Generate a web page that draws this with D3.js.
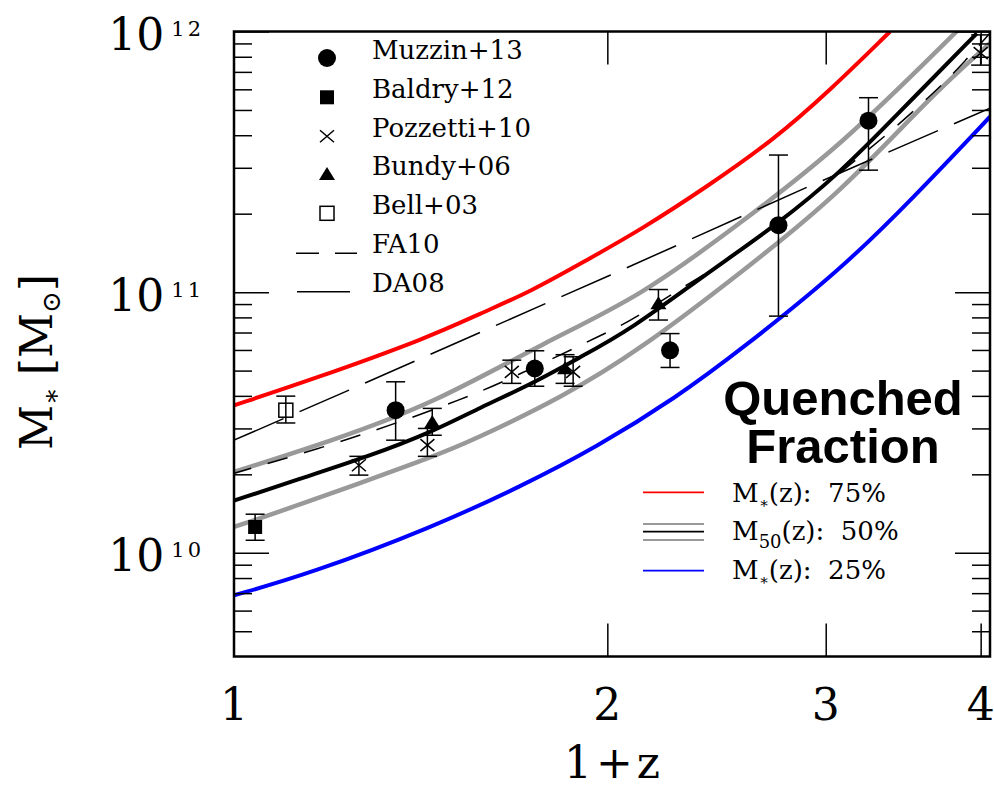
<!DOCTYPE html>
<html><head><meta charset="utf-8">
<script src="https://cdn.jsdelivr.net/npm/d3@7"></script>
<style>body{margin:0;background:#fff} svg{display:block}</style>
</head><body>
<svg id="chart" width="994" height="786"></svg>
<script>
// ---------- data (x = 1+z, values = log10 M*/Msun) ----------
const redX     = [1.00, 1.152, 1.439, 1.579, 1.733, 1.925, 2.126, 2.406, 2.722, 3.025, 3.381];
const redLogM  = [10.566, 10.662, 10.828, 10.918, 11.001, 11.123, 11.238, 11.404, 11.583, 11.775, 12.0];
const blackX   = [1.00, 1.132, 1.281, 1.449, 1.579, 1.733, 1.901, 2.086, 2.406, 2.746, 3.082, 3.423, 3.972];
const blackLogM= [10.20, 10.285, 10.368, 10.466, 10.557, 10.645, 10.75, 10.855, 11.072, 11.262, 11.458, 11.68, 11.993];
const greyHiX  = [1.00, 1.204, 1.449, 1.782, 2.126, 2.559, 3.082, 3.825];
const greyHiLogM=[10.31, 10.432, 10.573, 10.809, 10.982, 11.264, 11.558, 12.0];
const greyLoX  = [1.00, 1.097, 1.449, 1.558, 1.842, 2.126, 2.559, 3.082, 3.642, 4.07];
const greyLoLogM=[10.099, 10.163, 10.368, 10.432, 10.598, 10.78, 11.072, 11.379, 11.750, 11.955];
const blueX    = [1.00, 1.152, 1.447, 1.701, 1.962, 2.277, 2.559, 3.082, 3.528, 4.07];
const blueLogM = [9.837, 9.92, 10.099, 10.253, 10.406, 10.598, 10.777, 11.084, 11.361, 11.673];
const fa10X    = [1.00, 1.167, 1.363, 1.53, 1.639, 2.01, 2.106, 2.239, 2.526, 2.68, 3.331, 3.516, 3.71, 3.887, 4.07];
const fa10LogM = [10.305, 10.397, 10.502, 10.592, 10.649, 10.85, 10.90, 10.985, 11.134, 11.226, 11.587, 11.687, 11.787, 11.887, 11.994];
const da08X    = [1.00, 1.238, 2.01, 2.887, 4.07];
const da08LogM = [10.432, 10.624, 11.065, 11.399, 11.706];

const muzzinX  = [1.350, 1.748, 2.247, 2.748, 3.248];
const muzzinLogM=[10.547, 10.707, 10.777, 11.257, 11.658];
const muzzinLo = [10.432, 10.639, 10.711, 10.908, 11.468];
const muzzinHi = [10.656, 10.775, 10.841, 11.526, 11.746];
const baldryX  = [1.040];
const baldryLogM=[10.099];
const baldryLo = [10.048];
const baldryHi = [10.148];
const pozzettiX= [1.261, 1.432, 1.675, 1.877, 4.0];
const pozzettiLogM=[10.336, 10.413, 10.694, 10.694, 11.917];
const pozzettiLo=[10.298, 10.370, 10.650, 10.639, 11.871];
const pozzettiHi=[10.370, 10.477, 10.739, 10.752, 11.987];
const bundyX   = [1.445, 1.849, 2.199];
const bundyLogM= [10.502, 10.708, 10.957];
const bundyLo  = [10.451, 10.650, 10.893];
const bundyHi  = [10.554, 10.760, 11.010];
const bellX    = [1.101];
const bellLogM = [10.547];
const bellLo   = [10.498];
const bellHi   = [10.601];

const xTicks = [1, 2, 3, 4];
const xTickLabels = ["1", "2", "3", "4"];
const yMajor = [1e10, 1e11, 1e12];
const yMajorExp = ["10", "11", "12"];
const yMinor = [5e9, 6e9, 7e9, 8e9, 9e9, 2e10, 3e10, 4e10, 5e10, 6e10, 7e10, 8e10, 9e10,
                2e11, 3e11, 4e11, 5e11, 6e11, 7e11, 8e11, 9e11];

const legendNames = ["Muzzin+13", "Baldry+12", "Pozzetti+10", "Bundy+06", "Bell+03", "FA10", "DA08"];
const legendKinds = ["circle", "square", "cross", "triangle", "opensquare", "fa10", "da08"];

// ---------- layout ----------
const L = 234, R = 990, T = 31.5, B = 656.5;
const x = d3.scaleLog().domain([1, 4.07]).range([L, R]);
const y = d3.scaleLog().domain([4e9, 1e12]).range([B, T]);
const Y = v => y(Math.pow(10, v));
const SERIF = "'DejaVu Serif', serif";

const svg = d3.select('#chart');
svg.append('rect').attr('width', 994).attr('height', 786).attr('fill', '#fff');
svg.append('clipPath').attr('id', 'clip').append('rect')
  .attr('x', L).attr('y', T).attr('width', R - L).attr('height', B - T);

const plot = svg.append('g').attr('clip-path', 'url(#clip)');
const pairs = (xs, ls) => xs.map((v, i) => [v, ls[i]]);
const smooth = d3.line().x(d => x(d[0])).y(d => Y(d[1])).curve(d3.curveBasis);
const straight = d3.line().x(d => x(d[0])).y(d => Y(d[1]));

function curve(xs, ls, color, w, gen, dash, off) {
  const p = plot.append('path').datum(pairs(xs, ls)).attr('d', gen || smooth)
    .attr('fill', 'none').attr('stroke', color).attr('stroke-width', w)
    .attr('stroke-linejoin', 'round');
  if (dash) p.attr('stroke-dasharray', dash).attr('stroke-dashoffset', off || 0);
}
curve(redX, redLogM, '#ff0000', 4);
curve(blueX, blueLogM, '#0000ff', 4);
curve(greyHiX, greyHiLogM, '#999999', 4.5);
curve(greyLoX, greyLoLogM, '#999999', 4.5);
curve(blackX, blackLogM, '#000000', 4);
curve(fa10X, fa10LogM, '#000', 1.5, smooth, '21,17', 3);
curve(da08X, da08LogM, '#000', 1.5, straight, '54,17.5', 0);

// ---------- data points ----------
const pts = svg.append('g');
function errorbars(xs, ls, lo, hi) {
  xs.forEach((v, i) => {
    const cx = x(v);
    pts.append('line').attr('x1', cx).attr('x2', cx).attr('y1', Y(lo[i])).attr('y2', Y(hi[i]))
      .attr('stroke', '#000').attr('stroke-width', 1.5);
    [lo[i], hi[i]].forEach(e => pts.append('line').attr('x1', cx - 9.5).attr('x2', cx + 9.5)
      .attr('y1', Y(e)).attr('y2', Y(e)).attr('stroke', '#000').attr('stroke-width', 1.5));
  });
}
function marker(g, kind, cx, cy) {
  if (kind === 'circle') g.append('circle').attr('cx', cx).attr('cy', cy).attr('r', 9).attr('fill', '#000');
  else if (kind === 'square') g.append('rect').attr('x', cx - 7).attr('y', cy - 7).attr('width', 14).attr('height', 14).attr('fill', '#000');
  else if (kind === 'opensquare') g.append('rect').attr('x', cx - 7).attr('y', cy - 7).attr('width', 14).attr('height', 14)
      .attr('fill', 'none').attr('stroke', '#000').attr('stroke-width', 1.5);
  else if (kind === 'triangle') g.append('path').attr('d', `M${cx - 8},${cy + 6}L${cx + 8},${cy + 6}L${cx},${cy - 7}Z`).attr('fill', '#000');
  else if (kind === 'cross') g.append('path').attr('d', `M${cx - 7},${cy - 6}L${cx + 7},${cy + 6}M${cx - 7},${cy + 6}L${cx + 7},${cy - 6}`)
      .attr('stroke', '#000').attr('stroke-width', 1.5).attr('fill', 'none');
}
function dataset(xs, ls, lo, hi, kind) {
  errorbars(xs, ls, lo, hi);
  xs.forEach((v, i) => marker(pts, kind, x(v), Y(ls[i])));
}
dataset(bellX, bellLogM, bellLo, bellHi, 'opensquare');
dataset(baldryX, baldryLogM, baldryLo, baldryHi, 'square');
dataset(pozzettiX, pozzettiLogM, pozzettiLo, pozzettiHi, 'cross');
dataset(bundyX, bundyLogM, bundyLo, bundyHi, 'triangle');
dataset(muzzinX, muzzinLogM, muzzinLo, muzzinHi, 'circle');

// ---------- axes ----------
function styleAxis(g) {
  g.select('.domain').remove();
  g.selectAll('.tick line').attr('stroke', '#000').attr('stroke-width', 1.5);
  g.selectAll('.tick text').remove();
}
svg.append('g').attr('transform', `translate(${L},0)`).call(d3.axisLeft(y).tickValues(yMajor).tickSize(-35)).call(styleAxis);
svg.append('g').attr('transform', `translate(${L},0)`).call(d3.axisLeft(y).tickValues(yMinor).tickSize(-18)).call(styleAxis);
svg.append('g').attr('transform', `translate(${R},0)`).call(d3.axisRight(y).tickValues(yMajor).tickSize(-35)).call(styleAxis);
svg.append('g').attr('transform', `translate(${R},0)`).call(d3.axisRight(y).tickValues(yMinor).tickSize(-18)).call(styleAxis);
svg.append('g').attr('transform', `translate(0,${B})`).call(d3.axisBottom(x).tickValues(xTicks.slice(1)).tickSize(-33)).call(styleAxis);
svg.append('g').attr('transform', `translate(0,${T})`).call(d3.axisTop(x).tickValues(xTicks.slice(1)).tickSize(-33)).call(styleAxis);
svg.append('rect').attr('x', L).attr('y', T).attr('width', R - L).attr('height', B - T)
  .attr('fill', 'none').attr('stroke', '#000').attr('stroke-width', 2.5);

// tick labels
xTicks.forEach((v, i) => svg.append('text').attr('x', x(v)).attr('y', 720)
  .attr('text-anchor', 'middle').attr('font-family', SERIF).attr('font-size', 44).text(xTickLabels[i]));
yMajor.forEach((v, i) => {
  const t = svg.append('text').attr('x', 204).attr('y', y(v) + 18.5).attr('text-anchor', 'end')
    .attr('font-family', SERIF).attr('font-size', 44);
  t.append('tspan').text('10');
  t.append('tspan').attr('dx', 7).attr('dy', -14).attr('font-size', 21).attr('letter-spacing', 3).text(yMajorExp[i]);
});

// axis titles
svg.append('text').attr('x', 614).attr('y', 778).attr('text-anchor', 'middle')
  .attr('font-family', SERIF).attr('font-size', 44).attr('letter-spacing', 4).text('1+z');
const yt = svg.append('text').attr('transform', 'translate(52,362) rotate(-90)').attr('text-anchor', 'middle')
  .attr('font-family', SERIF).attr('font-size', 44);
yt.append('tspan').text('M');
yt.append('tspan').attr('dy', 8).attr('font-size', 26).text('∗');
yt.append('tspan').attr('dy', -8).attr('dx', 12).text('[M');
yt.append('tspan').attr('dy', 8).attr('font-size', 26).text('⊙');
yt.append('tspan').attr('dy', -8).text(']');

// ---------- legend (datasets) ----------
const legBase = [59, 98.3, 137.3, 175, 214.3, 253.3, 291.7];
const lg = svg.append('g');
legendNames.forEach((n, i) => {
  const by = legBase[i];
  lg.append('text').attr('x', 372).attr('y', by).attr('font-family', SERIF).attr('font-size', 26).text(n);
  const k = legendKinds[i];
  if (k === 'fa10') lg.append('line').attr('x1', 296).attr('x2', 357).attr('y1', by).attr('y2', by)
      .attr('stroke', '#000').attr('stroke-width', 1.5).attr('stroke-dasharray', '23,16');
  else if (k === 'da08') lg.append('line').attr('x1', 297).attr('x2', 350).attr('y1', by).attr('y2', by)
      .attr('stroke', '#000').attr('stroke-width', 1.5).attr('stroke-dasharray', '54,17.5');
  else marker(lg, k, 327, by - 1);
});

// ---------- quenched fraction legend ----------
svg.append('text').attr('x', 843).attr('y', 415).attr('text-anchor', 'middle')
  .attr('font-family', "'Liberation Sans', Arial, sans-serif").attr('font-weight', 'bold').attr('font-size', 49).text('Quenched');
svg.append('text').attr('x', 843).attr('y', 463).attr('text-anchor', 'middle')
  .attr('font-family', "'Liberation Sans', Arial, sans-serif").attr('font-weight', 'bold').attr('font-size', 49).text('Fraction');

const qLines = [
  {y: 492.3, c: '#ff0000'}, {y: 524, c: '#999999'}, {y: 531.7, c: '#000'}, {y: 540, c: '#999999'}, {y: 570.7, c: '#0000ff'}
];
qLines.forEach(d => svg.append('line').attr('x1', 643).attr('x2', 704).attr('y1', d.y).attr('y2', d.y)
  .attr('stroke', d.c).attr('stroke-width', 1.8));
const qText = [
  {y: 501.7, sub: '∗', pct: '75%'}, {y: 540, sub: '50', pct: '50%'}, {y: 579.3, sub: '∗', pct: '25%'}
];
qText.forEach(d => {
  const t = svg.append('text').attr('x', 732).attr('y', d.y).attr('font-family', SERIF).attr('font-size', 26);
  t.append('tspan').text('M');
  t.append('tspan').attr('dy', d.sub === '50' ? 8 : 6).attr('font-size', d.sub === '50' ? 18 : 15).text(d.sub);
  t.append('tspan').attr('dy', d.sub === '50' ? -8 : -6).text('(z):\u00a0\u00a0' + d.pct);
});
</script>
</body></html>
